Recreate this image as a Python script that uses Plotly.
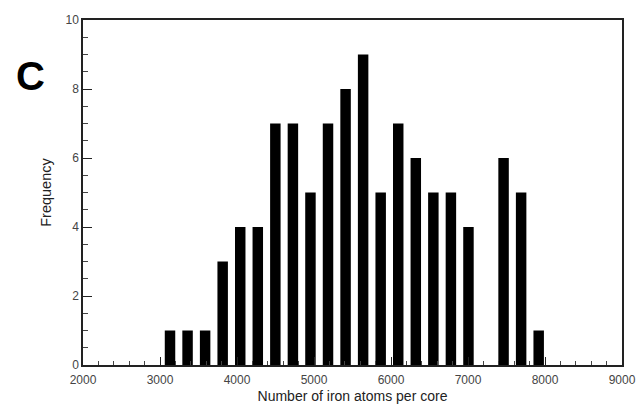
import plotly.graph_objects as go

# Bin centers (number of iron atoms per core) and frequencies
bin_centers = [3130, 3358, 3586, 3814, 4042, 4270, 4498, 4726, 4954, 5182, 5410,
               5638, 5866, 6094, 6322, 6550, 6778, 7006, 7234, 7462, 7690, 7918]
frequency = [1, 1, 1, 3, 4, 4, 7, 7, 5, 7, 8,
             9, 5, 7, 6, 5, 5, 4, 0, 6, 5, 1]
x_ticks = [2000, 3000, 4000, 5000, 6000, 7000, 8000, 9000]
y_ticks = [0, 2, 4, 6, 8, 10]

fig = go.Figure()
fig.add_trace(go.Bar(
    x=bin_centers, y=frequency, width=136,
    marker=dict(color="black", line=dict(width=0)),
))

font_family = "Liberation Sans, Arial, Helvetica, sans-serif"
fig.update_layout(
    width=638, height=408,
    margin=dict(l=83, r=16, t=20, b=43),
    paper_bgcolor="white", plot_bgcolor="white",
    showlegend=False,
    font=dict(family=font_family, color="#333"),
    xaxis=dict(
        range=[2000, 9000], tickvals=x_ticks, automargin=False,
        ticks="inside", ticklen=8, tickwidth=1.2, tickcolor="#222",
        minor=dict(ticks="inside", dtick=200, ticklen=4, tickwidth=1, tickcolor="#444"),
        showline=True, linecolor="#222", linewidth=1.5, mirror=True,
        showgrid=False, zeroline=False,
        tickfont=dict(size=12, color="#444"), ticklabelstandoff=3,
        title=dict(text="Number of iron atoms per core", font=dict(size=14, color="#222"), standoff=5),
    ),
    yaxis=dict(
        range=[0, 10], tickvals=y_ticks, automargin=False,
        ticks="inside", ticklen=9, tickwidth=1.2, tickcolor="#222",
        minor=dict(ticks="inside", dtick=0.5, ticklen=5, tickwidth=1, tickcolor="#444"),
        showline=True, linecolor="#222", linewidth=1.5, mirror=True,
        showgrid=False, zeroline=False,
        tickfont=dict(size=12, color="#444"),
        title=dict(text="Frequency", font=dict(size=14.5, color="#222"), standoff=10),
    ),
    annotations=[dict(
        text="<b>C</b>", xref="paper", yref="paper",
        x=-0.098, y=0.838, xanchor="center", yanchor="middle",
        showarrow=False, font=dict(size=40, color="black", family=font_family),
    )],
)

fig.write_html(
    "out.html",
    config={"displayModeBar": False},
    post_script="document.body.style.margin='0';document.body.style.overflow='hidden';",
)
